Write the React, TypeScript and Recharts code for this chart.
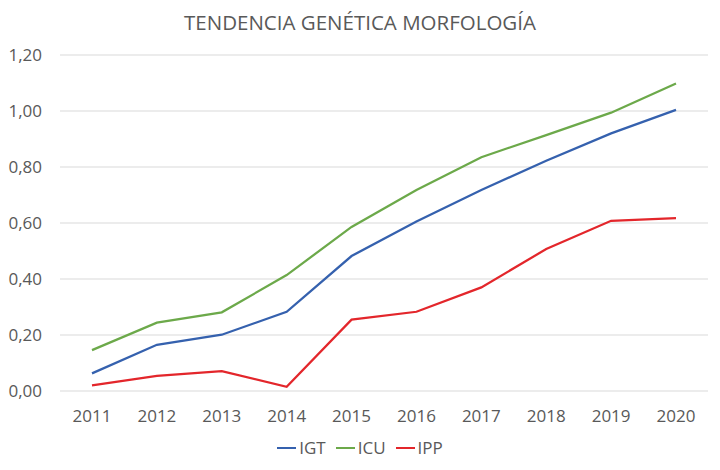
import { LineChart, Line, XAxis, YAxis, CartesianGrid } from 'recharts';

// Años (categorías del eje X)
const years = ['2011', '2012', '2013', '2014', '2015', '2016', '2017', '2018', '2019', '2020'];

// Series
const igt = [0.063, 0.165, 0.201, 0.283, 0.482, 0.605, 0.718, 0.822, 0.92, 1.004];
const icu = [0.146, 0.244, 0.281, 0.414, 0.586, 0.718, 0.835, 0.914, 0.994, 1.098];
const ipp = [0.02, 0.054, 0.071, 0.015, 0.255, 0.283, 0.37, 0.507, 0.608, 0.617];

const yTicks = [0, 0.2, 0.4, 0.6, 0.8, 1.0, 1.2];

const series = [
  { key: 'IGT', color: '#3561AE' },
  { key: 'ICU', color: '#6CA94A' },
  { key: 'IPP', color: '#E3262B' },
];

const FONT = '"Open Sans", sans-serif';
const TEXT = '#595959';

const data = years.map((year, i) => ({
  year,
  IGT: igt[i],
  ICU: icu[i],
  IPP: ipp[i],
}));

// formato decimal con coma
const fmt = (v: number) => v.toFixed(2).replace('.', ',');

export default function App() {
  return (
    <div style={{ position: 'absolute', left: 0, top: 0, width: 720, height: 470, background: '#fff', fontFamily: FONT }}>
      <div
        style={{
          position: 'absolute',
          top: 8,
          width: 720,
          textAlign: 'center',
          fontSize: 20.5,
          color: TEXT,
        }}
      >
        TENDENCIA GENÉTICA MORFOLOGÍA
      </div>
      <LineChart width={720} height={470} data={data} margin={{ top: 55, right: 12, bottom: 49, left: 0 }}>
        <CartesianGrid vertical={false} stroke="#d9d9d9" />
        <XAxis
          dataKey="year"
          height={30}
          axisLine={false}
          tickLine={false}
          tickSize={0}
          tickMargin={19}
          padding={{ left: 32, right: 32 }}
          tick={{ fill: TEXT, fontSize: 17, fontFamily: FONT }}
        />
        <YAxis
          width={60}
          domain={[0, 1.2]}
          ticks={yTicks}
          tickFormatter={fmt}
          axisLine={false}
          tickLine={false}
          tickSize={0}
          tickMargin={18}
          tick={{ fill: TEXT, fontSize: 17, fontFamily: FONT }}
        />
        {series.map((s) => (
          <Line key={s.key} dataKey={s.key} stroke={s.color} strokeWidth={2.25} dot={false} isAnimationActive={false} />
        ))}
      </LineChart>
      {/* leyenda propia, en el orden de las series */}
      <div
        style={{
          position: 'absolute',
          top: 436,
          width: 720,
          display: 'flex',
          justifyContent: 'center',
          gap: 10,
          fontSize: 17,
          color: TEXT,
          lineHeight: '24px',
        }}
      >
        {series.map((s) => (
          <div key={s.key} style={{ display: 'flex', alignItems: 'center' }}>
            <span style={{ display: 'inline-block', width: 19, height: 2.25, background: s.color, marginRight: 3 }} />
            <span>{s.key}</span>
          </div>
        ))}
      </div>
    </div>
  );
}
